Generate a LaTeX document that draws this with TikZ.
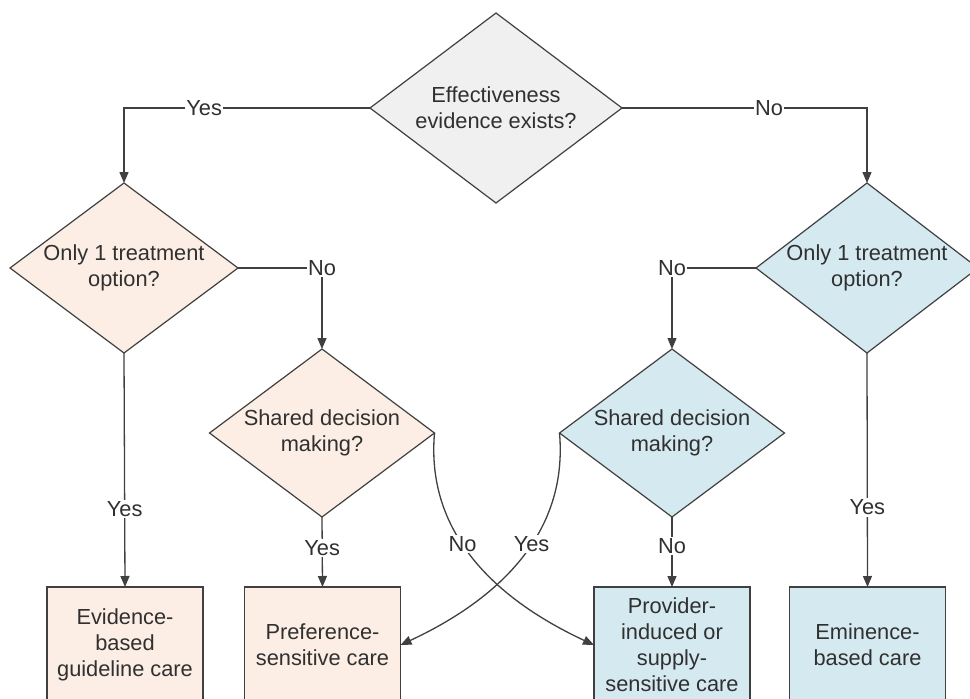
\documentclass[tikz,border=0pt]{standalone}
\usepackage{fontspec}
\setmainfont{Liberation Sans}
\usetikzlibrary{shapes.geometric,arrows.meta}
\definecolor{peach}{HTML}{FCEEE4}
\definecolor{bluish}{HTML}{D5E9F0}
\definecolor{greyish}{HTML}{F0F0F0}
\definecolor{linec}{HTML}{404040}
\definecolor{textc}{HTML}{303030}
\tikzset{
  x=1pt,y=-1pt,
  every node/.style={font=\fontsize{21.8}{26}\selectfont, text=textc},
  dec/.style={diamond, draw=linec, line width=1.2pt, inner sep=0pt, outer sep=0pt, align=center},
  outbox/.style={rectangle, draw=linec, line width=1.4pt, inner sep=0pt, outer sep=0pt, align=center, minimum width=156pt, minimum height=116pt},
  arr/.style={draw=linec, line width=1.3pt, -{Triangle[width=9pt,length=11pt]}},
  lbl/.style={fill=white, inner sep=1.5pt}
}
\begin{document}
\begin{tikzpicture}
\useasboundingbox (0,0) rectangle (970,699);
\fill[white] (0,0) rectangle (970,699);
% decisions
\node[dec, fill=greyish, minimum width=252pt, minimum height=190pt, aspect=1.33] (top) at (496,108) {Effectiveness\\evidence exists?};
\node[dec, fill=peach, minimum width=228pt, minimum height=170pt, aspect=1.34] (L) at (124,268) {Only 1 treatment\\option?};
\node[dec, fill=bluish, minimum width=222pt, minimum height=170pt, aspect=1.31] (R) at (867,268) {Only 1 treatment\\option?};
\node[dec, fill=peach, minimum width=225pt, minimum height=168pt, aspect=1.34] (M1) at (322,433) {Shared decision\\making?};
\node[dec, fill=bluish, minimum width=225pt, minimum height=168pt, aspect=1.34] (M2) at (672,433) {Shared decision\\making?};
% outcomes
\node[outbox, fill=peach] (B1) at (125,645) {Evidence-\\based\\guideline care};
\node[outbox, fill=peach] (B2) at (322.5,645) {Preference-\\sensitive care};
\node[outbox, fill=bluish] (B3) at (672,645) {Provider-\\induced or\\supply-\\sensitive care};
\node[outbox, fill=bluish] (B4) at (867.5,645) {Eminence-\\based care};
% connectors
\draw[arr] (top.west) -| node[lbl, pos=0.337] {Yes} (L.north);
\draw[arr] (top.east) -| node[lbl, pos=0.30] {No} (R.north);
\draw[arr] (L.east) -| node[lbl, pos=0.5] {No} (M1.north);
\draw[arr] (R.west) -| node[lbl, pos=0.5] {No} (M2.north);
\draw[arr] (L.south) -- node[lbl, pos=0.667] {Yes} (B1.north);
\draw[arr] (R.south) -- node[lbl, pos=0.66] {Yes} (B4.north);
\draw[arr] (M1.south) -- node[lbl, pos=0.44] {Yes} (B2.north);
\draw[arr] (M2.south) -- node[lbl, pos=0.41] {No} (B3.north);
\draw[arr] (M1.east) to[out=-95, in=155] node[lbl, pos=0.42] {No} (B3.west);
\draw[arr] (M2.west) to[out=-85, in=25] node[lbl, pos=0.42] {Yes} (B2.east);
\end{tikzpicture}
\end{document}
